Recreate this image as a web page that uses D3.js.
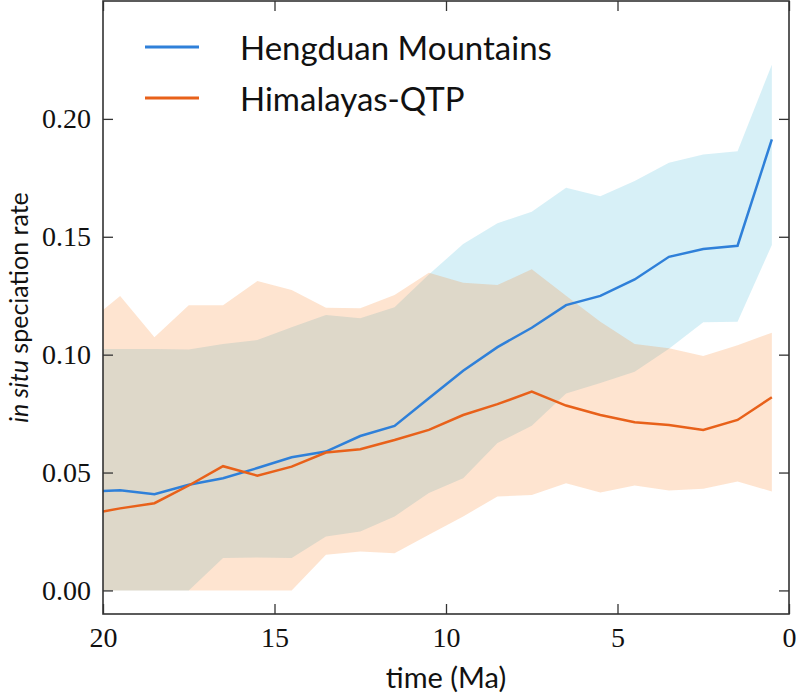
<!DOCTYPE html>
<html lang="en">
<head>
    <meta charset="utf-8">
    <title>In situ speciation rate</title>
    <script src="https://cdn.jsdelivr.net/npm/d3@7"></script>
    <style>
        body { margin: 0; background: #fff; }
        .tick-label { font-family: "Liberation Serif", serif; font-size: 28px; fill: #111; }
        .axis-title { font-family: Lato, sans-serif; font-size: 29px; fill: #111; }
        .y-title { font-family: Lato, sans-serif; font-size: 25px; fill: #111; }
        .legend-text { font-family: Lato, sans-serif; font-size: 33px; fill: #111; }
    </style>
</head>
<body>

<div id="chart"></div>

<script>
    // time points (Ma)
    const times = [20, 19.5, 18.5, 17.5, 16.5, 15.5, 14.5, 13.5, 12.5, 11.5, 10.5,
                   9.5, 8.5, 7.5, 6.5, 5.5, 4.5, 3.5, 2.5, 1.5, 0.5];

    // Hengduan Mountains
    const hengduanMean = [0.0422, 0.0425, 0.0408, 0.0448, 0.0476, 0.0519, 0.0565, 0.0589, 0.0655, 0.0698, 0.0815,
                          0.0932, 0.1032, 0.1114, 0.1210, 0.1249, 0.1319, 0.1415, 0.1448, 0.1462, 0.1913];
    const hengduanLower = [0, 0, 0, 0, 0.0137, 0.0140, 0.0137, 0.0229, 0.0250, 0.0314, 0.0413,
                           0.0476, 0.0625, 0.0698, 0.0835, 0.0880, 0.0928, 0.1025, 0.1137, 0.1140, 0.1465];
    const hengduanUpper = [0.1024, 0.1024, 0.1024, 0.1022, 0.1045, 0.1062, 0.1116, 0.1168, 0.1154, 0.1201, 0.1340,
                           0.1469, 0.1557, 0.1606, 0.1708, 0.1672, 0.1737, 0.1814, 0.1849, 0.1863, 0.2230];

    // Himalayas-QTP
    const himalayaMean = [0.0335, 0.0348, 0.0370, 0.0445, 0.0527, 0.0487, 0.0525, 0.0585, 0.0599, 0.0638, 0.0681,
                          0.0744, 0.0790, 0.0843, 0.0784, 0.0744, 0.0713, 0.0702, 0.0681, 0.0723, 0.0819];
    const himalayaLower = [0, 0, 0, 0, 0, 0, 0, 0.0151, 0.0165, 0.0158, 0.0236,
                           0.0314, 0.0398, 0.0405, 0.0455, 0.0415, 0.0445, 0.0424, 0.0431, 0.0462, 0.0420];
    const himalayaUpper = [0.1189, 0.1249, 0.1074, 0.1210, 0.1210, 0.1312, 0.1274, 0.1199, 0.1197, 0.1253, 0.1347,
                           0.1305, 0.1295, 0.1362, 0.1250, 0.1140, 0.1045, 0.1027, 0.0994, 0.1040, 0.1093];

    const xTicks = [20, 15, 10, 5, 0];
    const yTicks = [0, 0.05, 0.10, 0.15, 0.20];

    const seriesNames = ["Hengduan Mountains", "Himalayas-QTP"];

    const series = [
        {name: seriesNames[0], mean: hengduanMean, lower: hengduanLower, upper: hengduanUpper,
         line: "#2f80d9", fill: "rgb(55,180,215)"},
        {name: seriesNames[1], mean: himalayaMean, lower: himalayaLower, upper: himalayaUpper,
         line: "#e8611a", fill: "rgb(250,120,20)"}
    ];

    // plot dimensions and margins
    const W = 796, H = 695;
    const margin = {top: 1, right: 7, bottom: 81, left: 103};
    const width = W - margin.left - margin.right;
    const height = H - margin.top - margin.bottom;

    const svg = d3.select("#chart")
        .append("svg")
            .attr("width", W)
            .attr("height", H);

    const g = svg.append("g")
        .attr("transform", "translate(" + margin.left + "," + margin.top + ")");

    const x = d3.scaleLinear().domain([20, 0]).range([0, width]);
    const y = d3.scaleLinear().domain([-0.01, 0.25]).range([height, 0]);

    g.append("clipPath").attr("id", "clip")
        .append("rect").attr("width", width).attr("height", height);

    const plot = g.append("g").attr("clip-path", "url(#clip)");

    // confidence bands
    series.forEach(s => {
        const area = d3.area()
            .x((d, i) => x(times[i]))
            .y0((d, i) => y(s.lower[i]))
            .y1((d, i) => y(s.upper[i]));
        plot.append("path")
            .attr("d", area(times))
            .attr("fill", s.fill)
            .attr("fill-opacity", 0.2);
    });

    // mean lines
    series.forEach(s => {
        const line = d3.line()
            .x((d, i) => x(times[i]))
            .y((d, i) => y(s.mean[i]));
        plot.append("path")
            .attr("d", line(times))
            .attr("fill", "none")
            .attr("stroke", s.line)
            .attr("stroke-width", 2.5);
    });

    // axes with inward ticks on all four sides
    const tickLen = 10;
    const bottomAxis = g.append("g")
        .attr("transform", "translate(0," + height + ")")
        .call(d3.axisBottom(x).tickValues(xTicks).tickSizeInner(-tickLen).tickSizeOuter(0).tickPadding(12));
    bottomAxis.selectAll("text").attr("class", "tick-label").attr("dy", "0.75em");

    g.append("g")
        .call(d3.axisTop(x).tickValues(xTicks).tickSizeInner(-tickLen).tickSizeOuter(0).tickFormat(""));

    const leftAxis = g.append("g")
        .call(d3.axisLeft(y).tickValues(yTicks).tickSizeInner(-tickLen).tickSizeOuter(0)
            .tickPadding(12).tickFormat(d3.format(".2f")));
    leftAxis.selectAll("text").attr("class", "tick-label");

    g.append("g")
        .attr("transform", "translate(" + width + ",0)")
        .call(d3.axisRight(y).tickValues(yTicks).tickSizeInner(-tickLen).tickSizeOuter(0).tickFormat(""));

    g.selectAll(".domain").remove();
    g.selectAll(".tick line").attr("stroke", "#333").attr("stroke-width", 1.3);

    // frame
    g.append("rect")
        .attr("width", width)
        .attr("height", height)
        .attr("fill", "none")
        .attr("stroke", "#333")
        .attr("stroke-width", 1.6);

    // axis titles
    svg.append("text")
        .attr("class", "axis-title")
        .attr("x", margin.left + width / 2)
        .attr("y", 688)
        .attr("text-anchor", "middle")
        .text("time (Ma)");

    const yTitle = svg.append("text")
        .attr("class", "y-title")
        .attr("transform", "translate(28," + (margin.top + height / 2) + ") rotate(-90)")
        .attr("text-anchor", "middle");
    yTitle.append("tspan").style("font-style", "italic").text("in situ");
    yTitle.append("tspan").text(" speciation rate");

    // legend
    const legend = svg.append("g").attr("transform", "translate(145, 47)");
    const legendItems = legend.selectAll(".legend-item")
        .data(series)
        .enter()
        .append("g")
        .attr("class", "legend-item")
        .attr("transform", (d, i) => "translate(0," + (i * 51) + ")");

    legendItems.append("line")
        .attr("x1", 0).attr("x2", 54)
        .attr("stroke", d => d.line)
        .attr("stroke-width", 3);

    legendItems.append("text")
        .attr("class", "legend-text")
        .attr("x", 95)
        .attr("y", 13)
        .text(d => d.name);
</script>

</body>
</html>
